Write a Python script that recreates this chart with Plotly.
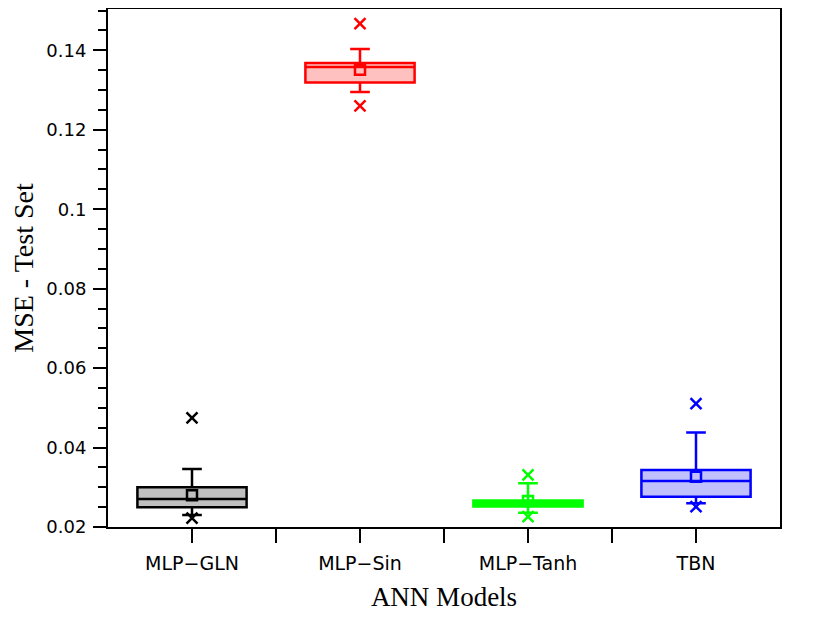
import plotly.graph_objects as go

models = ["MLP−GLN", "MLP−Sin", "MLP−Tanh", "TBN"]
positions = [1, 2, 3, 4]

q1 = [0.02495, 0.1319, 0.02515, 0.02761]
median = [0.02704, 0.1358, 0.0259, 0.03156]
q3 = [0.0300, 0.1368, 0.02666, 0.03432]
lower_whisker = [0.0230, 0.1295, 0.02359, 0.02595]
upper_whisker = [0.03457, 0.1403, 0.0310, 0.04379]
mean = [0.0280, 0.1351, 0.02653, 0.03264]
min_val = [0.02226, 0.1260, 0.0226, 0.0251]
max_val = [0.04747, 0.1467, 0.0331, 0.05108]

line_colors = ["#000000", "#ff0000", "#00ff00", "#0000ff"]
fill_colors = ["#c0c0c0", "#ffc0c0", "#00ff00", "#c0c0ff"]

fig = go.Figure()

for i in range(len(models)):
  fig.add_trace(go.Box(
    x=[positions[i]], q1=[q1[i]], median=[median[i]], q3=[q3[i]],
    lowerfence=[lower_whisker[i]], upperfence=[upper_whisker[i]],
    width=0.65, whiskerwidth=0.18, boxpoints=False,
    line=dict(color=line_colors[i], width=2.5),
    fillcolor=fill_colors[i], hoverinfo="skip"))
  fig.add_trace(go.Scatter(
    x=[positions[i]], y=[mean[i]], mode="markers",
    marker=dict(symbol="square-open", size=10, color=line_colors[i],
                line=dict(width=2.5, color=line_colors[i]))))
  fig.add_trace(go.Scatter(
    x=[positions[i], positions[i]], y=[min_val[i], max_val[i]], mode="markers",
    marker=dict(symbol="x-thin", size=11, color=line_colors[i],
                line=dict(width=2.5, color=line_colors[i]))))

# page body adds 8px, so margins are shifted by that
fig.update_layout(
  width=830, height=631,
  margin=dict(l=100, r=58, t=1, b=112),
  paper_bgcolor="white", plot_bgcolor="white",
  showlegend=False,
  xaxis=dict(
    range=[0.5, 4.5], tickvals=positions, ticktext=models,
    automargin=False,
    showgrid=False, zeroline=False,
    showline=True, linecolor="black", linewidth=2, mirror=True,
    ticks="outside", ticklen=14, tickwidth=1.5, tickcolor="black",
    ticklabelstandoff=4,
    minor=dict(tickvals=[1.5, 2.5, 3.5], ticks="outside", ticklen=14,
               tickwidth=1.5, tickcolor="black", showgrid=False),
    tickfont=dict(family="DejaVu Sans", size=19, color="black"),
    title=dict(text="ANN Models", standoff=14,
               font=dict(family="Liberation Serif", size=27, color="black"))),
  yaxis=dict(
    range=[0.02, 0.1504], dtick=0.02, tick0=0.02,
    automargin=False,
    showgrid=False, zeroline=False,
    showline=True, linecolor="black", linewidth=2, mirror=True,
    ticks="outside", ticklen=13, tickwidth=1.5, tickcolor="black",
    ticklabelstandoff=3,
    minor=dict(dtick=0.005, ticks="outside", ticklen=8, tickwidth=1.5,
               tickcolor="black", showgrid=False),
    tickfont=dict(family="DejaVu Sans", size=18, color="black"),
    title=dict(text="MSE - Test Set", standoff=8,
               font=dict(family="Liberation Serif", size=28, color="black"))),
)

fig.write_html("out.html")
